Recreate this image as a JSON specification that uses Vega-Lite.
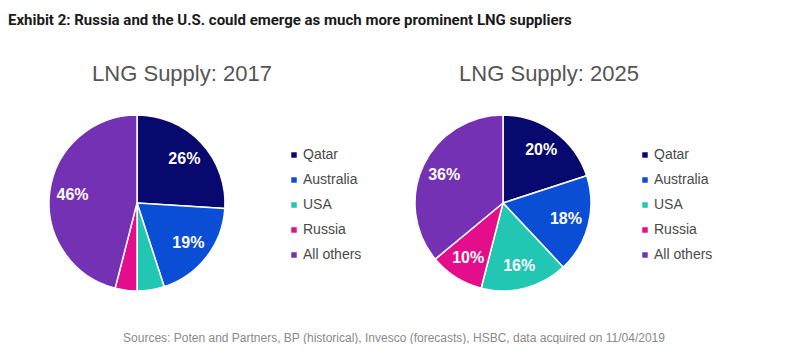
{
  "$schema": "https://vega.github.io/schema/vega-lite/v6.json",
  "padding": {"left": 8, "top": 13, "right": 0, "bottom": 0},
  "background": "white",
  "title": {"text": "Exhibit 2: Russia and the U.S. could emerge as much more prominent LNG suppliers", "anchor": "start", "font": "Roboto", "fontSize": 15, "fontWeight": "bold", "color": "#1a1a1a", "offset": 35},
  "spacing": 38,
  "datasets": {
    "y2017": [
      {"supplier": "Qatar", "share": 0.26, "order": 1},
      {"supplier": "Australia", "share": 0.19, "order": 2},
      {"supplier": "USA", "share": 0.05, "order": 3},
      {"supplier": "Russia", "share": 0.04, "order": 4},
      {"supplier": "All others", "share": 0.46, "order": 5}
    ],
    "y2025": [
      {"supplier": "Qatar", "share": 0.20, "order": 1},
      {"supplier": "Australia", "share": 0.18, "order": 2},
      {"supplier": "USA", "share": 0.16, "order": 3},
      {"supplier": "Russia", "share": 0.10, "order": 4},
      {"supplier": "All others", "share": 0.36, "order": 5}
    ],
    "src": [
      {"t": "Sources: Poten and Partners, BP (historical), Invesco (forecasts), HSBC, data acquired on 11/04/2019"}
    ]
  },
  "vconcat": [
    {
      "bounds": "flush",
      "spacing": 108,
      "resolve": {"legend": {"color": "independent"}},
      "hconcat": [
        {
          "width": 258,
          "height": 176,
          "title": {"text": "LNG Supply: 2017", "dx": 45, "offset": 26, "font": "Liberation Sans", "fontSize": 22, "fontWeight": "normal", "color": "#555555"},
          "data": {"name": "y2017"},
          "encoding": {
            "theta": {"field": "share", "type": "quantitative", "stack": true},
            "order": {"field": "order", "type": "quantitative"}
          },
          "layer": [
            {
              "mark": {"type": "arc", "outerRadius": 88, "stroke": "white", "strokeWidth": 1.5},
              "encoding": {
                "color": {"field": "supplier", "type": "nominal",
                  "scale": {"domain": ["Qatar", "Australia", "USA", "Russia", "All others"], "range": ["#07096e", "#0b4ed6", "#22c7b3", "#e40e8c", "#7431b3"]},
                  "legend": {"orient": "none", "legendX": 279, "legendY": 33, "title": null, "symbolType": "square", "symbolSize": 30, "symbolStrokeWidth": 0, "labelFont": "Liberation Sans", "labelFontSize": 14, "labelColor": "#4a4a4a", "labelOffset": 2, "rowPadding": 11, "padding": 0}
                }
              }
            },
            {
              "mark": {"type": "text", "radius": 65, "font": "Liberation Sans", "fontSize": 16, "fontWeight": "bold", "color": "white"},
              "encoding": {
                "detail": {"field": "supplier"},
                "text": {"field": "share", "type": "quantitative", "format": ".0%"},
                "opacity": {"condition": {"test": "datum.share < 0.1", "value": 0}, "value": 1}
              }
            }
          ]
        },
        {
          "width": 258,
          "height": 176,
          "title": {"text": "LNG Supply: 2025", "dx": 46, "offset": 26, "font": "Liberation Sans", "fontSize": 22, "fontWeight": "normal", "color": "#555555"},
          "data": {"name": "y2025"},
          "encoding": {
            "theta": {"field": "share", "type": "quantitative", "stack": true},
            "order": {"field": "order", "type": "quantitative"}
          },
          "layer": [
            {
              "mark": {"type": "arc", "outerRadius": 88, "stroke": "white", "strokeWidth": 1.5},
              "encoding": {
                "color": {"field": "supplier", "type": "nominal",
                  "scale": {"domain": ["Qatar", "Australia", "USA", "Russia", "All others"], "range": ["#07096e", "#0b4ed6", "#22c7b3", "#e40e8c", "#7431b3"]},
                  "legend": {"orient": "none", "legendX": 264, "legendY": 33, "title": null, "symbolType": "square", "symbolSize": 30, "symbolStrokeWidth": 0, "labelFont": "Liberation Sans", "labelFontSize": 14, "labelColor": "#4a4a4a", "labelOffset": 2, "rowPadding": 11, "padding": 0}
                }
              }
            },
            {
              "mark": {"type": "text", "radius": 65, "font": "Liberation Sans", "fontSize": 16, "fontWeight": "bold", "color": "white"},
              "encoding": {
                "detail": {"field": "supplier"},
                "text": {"field": "share", "type": "quantitative", "format": ".0%"},
                "opacity": {"condition": {"test": "datum.share < 0.1", "value": 0}, "value": 1}
              }
            }
          ]
        }
      ]
    },
    {
      "width": 772,
      "height": 12,
      "data": {"name": "src"},
      "mark": {"type": "text", "font": "Liberation Sans", "fontSize": 12, "color": "#8a8a8a"},
      "encoding": {"text": {"field": "t", "type": "nominal"}}
    }
  ],
  "config": {"view": {"stroke": null}}
}
